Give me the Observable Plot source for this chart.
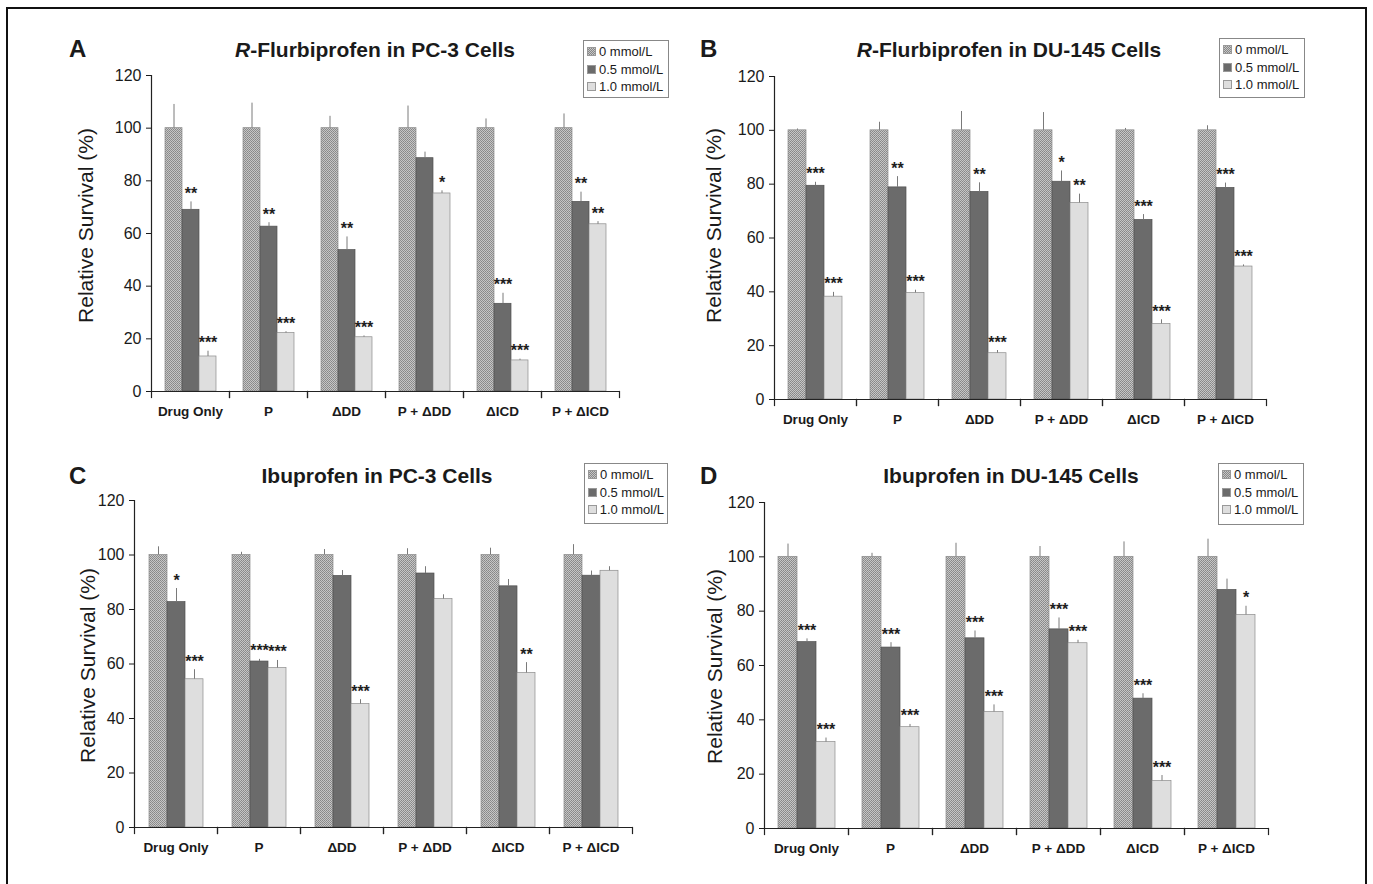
<!DOCTYPE html>
<html><head><meta charset="utf-8">
<script src="https://cdn.jsdelivr.net/npm/d3@7"></script>
<script src="https://cdn.jsdelivr.net/npm/@observablehq/plot@0.6"></script>
<style>
body{margin:0;background:#fff;font-family:"Liberation Sans",Arial,sans-serif;color:#1a1a1a;}
#fig{position:relative;width:1373px;height:884px;overflow:hidden;background:#fff;}
.border{position:absolute;left:6px;top:7px;width:1361px;height:900px;border:2px solid #111;box-sizing:border-box;}
.psvg{position:absolute;}
.letter{position:absolute;font-weight:bold;font-size:24px;line-height:1;}
.title{position:absolute;font-weight:bold;font-size:21px;line-height:1;transform:translateX(-50%);white-space:nowrap;}
.legend{position:absolute;border:1px solid #888;background:#fff;font-size:13px;box-sizing:border-box;padding:2px 3px;}
.legend .row{display:flex;align-items:center;height:17.5px;white-space:nowrap;}
.legend .sw{width:9px;height:9px;margin-right:3px;box-sizing:border-box;border:1px solid #999;}
g[aria-label="fx-axis tick label"]{font-weight:bold;}
</style></head>
<body>
<svg width="0" height="0" style="position:absolute">
  <defs>
    <pattern id="dots" width="2" height="2" patternUnits="userSpaceOnUse">
      <rect width="2" height="2" fill="#c6c6c6"/>
      <rect width="1" height="1" fill="#878787"/>
      <rect x="1" y="1" width="1" height="1" fill="#909090"/>
    </pattern>
  </defs>
</svg>
<div id="fig"><div class="border"></div></div>
<script>
const FONT = '"Liberation Sans", Arial, sans-serif';
const categories = ["Drug Only", "P", "ΔDD", "P + ΔDD", "ΔICD", "P + ΔICD"];
const doses = ["0 mmol/L", "0.5 mmol/L", "1.0 mmol/L"];
const yTicks = [0, 20, 40, 60, 80, 100, 120];
const yLabel = "Relative Survival (%)";
const doseFills = ["url(#dots)", "#6b6b6b", "#dedede"];
const doseStrokes = ["#8a8a8a", "#505050", "#8c8c8c"];
const legendSwatches = ["repeating-conic-gradient(#878787 0 25%, #c6c6c6 0 50%) 0 0/2px 2px", "#6b6b6b", "#dedede"];

// Panel A: R-Flurbiprofen in PC-3 Cells
const aTitle = ["R", "-Flurbiprofen in PC-3 Cells"];
const a0 = [100, 100, 100, 100, 100, 100];
const a0err = [9, 9.5, 4.5, 8.4, 3.5, 5.4];
const a05 = [69.0, 62.6, 53.7, 88.6, 33.3, 72.0];
const a05err = [3, 1.5, 5, 2.3, 4, 3.7];
const a05sig = ["**", "**", "**", "", "***", "**"];
const a10 = [13.3, 22.2, 20.6, 75.2, 11.8, 63.5];
const a10err = [2, 0.5, 0.5, 1, 0.5, 1];
const a10sig = ["***", "***", "***", "*", "***", "**"];

// Panel B: R-Flurbiprofen in DU-145 Cells
const bTitle = ["R", "-Flurbiprofen in DU-145 Cells"];
const b0 = [100, 100, 100, 100, 100, 100];
const b0err = [0.5, 3, 7, 6.6, 0.7, 1.7];
const b05 = [79.4, 78.8, 77.1, 80.9, 66.7, 78.6];
const b05err = [1.3, 4, 3.4, 4, 2, 1.8];
const b05sig = ["***", "**", "**", "*", "***", "***"];
const b10 = [38.2, 39.6, 17.2, 73.0, 28.1, 49.4];
const b10err = [1.6, 1, 1, 3.3, 1.5, 0.6];
const b10sig = ["***", "***", "***", "**", "***", "***"];

// Panel C: Ibuprofen in PC-3 Cells
const cTitle = ["", "Ibuprofen in PC-3 Cells"];
const c0 = [100, 100, 100, 100, 100, 100];
const c0err = [3, 1, 2, 2.3, 2.5, 3.8];
const c05 = [82.7, 60.9, 92.3, 93.2, 88.5, 92.4];
const c05err = [5, 0.8, 2, 2.5, 2.5, 1.7];
const c05sig = ["*", "***", "", "", "", ""];
const c10 = [54.4, 58.5, 45.3, 83.8, 56.7, 94.2];
const c10err = [3.5, 2.8, 1.6, 1.6, 3.8, 1.5];
const c10sig = ["***", "***", "***", "", "**", ""];

// Panel D: Ibuprofen in DU-145 Cells
const dTitle = ["", "Ibuprofen in DU-145 Cells"];
const d0 = [100, 100, 100, 100, 100, 100];
const d0err = [4.7, 1.3, 5, 3.8, 5.5, 6.5];
const d05 = [68.6, 66.6, 70.0, 73.3, 47.8, 87.8];
const d05err = [1.2, 1.8, 2.7, 4.2, 1.8, 4];
const d05sig = ["***", "***", "***", "***", "***", ""];
const d10 = [31.8, 37.3, 42.9, 68.2, 17.5, 78.6];
const d10err = [1.5, 1, 2.6, 1.1, 2, 3.2];
const d10sig = ["***", "***", "***", "***", "***", "*"];

function rowsFor(v0, e0, v05, e05, s05, v10, e10, s10) {
  const rows = [];
  categories.forEach((c, i) => {
    rows.push({cat: c, dose: doses[0], value: v0[i], err: e0[i], sig: ""});
    rows.push({cat: c, dose: doses[1], value: v05[i], err: e05[i], sig: s05[i]});
    rows.push({cat: c, dose: doses[2], value: v10[i], err: e10[i], sig: s10[i]});
  });
  return rows;
}

const panels = [
  {letter: "A", title: aTitle, rows: rowsFor(a0, a0err, a05, a05err, a05sig, a10, a10err, a10sig),
   left: 60, top: 65, width: 569, ml: 90, mt: 10, innerH: 316, labelPos: [85, 225],
   letterPos: [69, 37], titlePos: [375, 39], legendPos: [583, 40, 86, 58]},
  {letter: "B", title: bTitle, rows: rowsFor(b0, b0err, b05, b05err, b05sig, b10, b10err, b10sig),
   left: 690, top: 65, width: 588, ml: 82, mt: 11, innerH: 323, labelPos: [712, 225],
   letterPos: [700, 37], titlePos: [1009, 39], legendPos: [1219, 38, 86, 60]},
  {letter: "C", title: cTitle, rows: rowsFor(c0, c0err, c05, c05err, c05sig, c10, c10err, c10sig),
   left: 40, top: 490, width: 604, ml: 92, mt: 10, innerH: 327, labelPos: [86, 665],
   letterPos: [69, 464], titlePos: [377, 465], legendPos: [584, 463, 84, 61]},
  {letter: "D", title: dTitle, rows: rowsFor(d0, d0err, d05, d05err, d05sig, d10, d10err, d10sig),
   left: 690, top: 490, width: 589, ml: 73, mt: 12, innerH: 326, labelPos: [714, 666],
   letterPos: [700, 464], titlePos: [1011, 465], legendPos: [1218, 463, 86, 62]}
];

const fig = document.getElementById("fig");
const MB = 30;

for (const p of panels) {
  const height = p.mt + p.innerH + MB;
  const axisX = p.left + p.ml;
  const midY = p.top + p.mt + p.innerH / 2;
  const chart = Plot.plot({
    width: p.width, height,
    marginLeft: p.ml, marginRight: 10, marginTop: p.mt, marginBottom: MB,
    style: {fontFamily: FONT, background: "transparent", overflow: "visible", color: "#1a1a1a"},
    fx: {domain: categories, padding: 0, label: null},
    x: {domain: doses, paddingInner: 0, paddingOuter: 0.69, axis: null},
    y: {domain: [0, 120], label: null},
    color: {domain: doses, range: doseFills},
    marks: [
      Plot.barY(p.rows, {fx: "cat", x: "dose", y: "value", fill: "dose",
        stroke: d => doseStrokes[doses.indexOf(d.dose)], strokeWidth: 0.7}),
      Plot.ruleX(p.rows, {fx: "cat", x: "dose", y1: "value", y2: d => d.value + d.err, stroke: "#7a7a7a", strokeWidth: 1}),
      Plot.text(p.rows.filter(d => d.sig), {fx: "cat", x: "dose", y: d => d.value + d.err, text: "sig",
        dy: -3, lineAnchor: "bottom", fontSize: 16, fontWeight: "bold", fill: "#1e1e1e"}),
      Plot.ruleY([0], {stroke: "#222", strokeWidth: 1.2}),
      Plot.frame({anchor: "left", facetAnchor: "left", stroke: "#222", strokeWidth: 1.2}),
      Plot.frame({anchor: "left", insetTop: p.innerH, insetBottom: -6, stroke: "#222", strokeWidth: 1.2}),
      Plot.frame({anchor: "right", insetTop: p.innerH, insetBottom: -6, stroke: "#222", strokeWidth: 1.2}),
      Plot.axisY({ticks: yTicks, tickSize: 5, tickPadding: 5, fontSize: 16, label: null}),
      Plot.text([yLabel], {frameAnchor: "left", facetAnchor: "left", rotate: -90, text: d => d,
        textAnchor: "middle", lineAnchor: "middle", fontSize: 21, fill: "#1a1a1a",
        dx: p.labelPos[0] - axisX, dy: p.labelPos[1] - midY}),
      Plot.axisFx({anchor: "bottom", tickSize: 0, tickPadding: 15, fontSize: 13.5, fontWeight: "bold", label: null})
    ]
  });
  chart.classList.add("psvg");
  chart.style.left = p.left + "px";
  chart.style.top = p.top + "px";
  fig.appendChild(chart);

  const L = document.createElement("div");
  L.className = "letter"; L.textContent = p.letter;
  L.style.left = p.letterPos[0] + "px"; L.style.top = p.letterPos[1] + "px";
  fig.appendChild(L);

  const T = document.createElement("div");
  T.className = "title";
  if (p.title[0]) { const em = document.createElement("i"); em.textContent = p.title[0]; T.appendChild(em); }
  T.appendChild(document.createTextNode(p.title[1]));
  T.style.left = p.titlePos[0] + "px"; T.style.top = p.titlePos[1] + "px";
  fig.appendChild(T);

  const G = document.createElement("div");
  G.className = "legend";
  G.style.left = p.legendPos[0] + "px"; G.style.top = p.legendPos[1] + "px";
  G.style.width = p.legendPos[2] + "px"; G.style.height = p.legendPos[3] + "px";
  doses.forEach((d, i) => {
    const r = document.createElement("div"); r.className = "row";
    const s = document.createElement("span"); s.className = "sw"; s.style.background = legendSwatches[i];
    r.appendChild(s); r.appendChild(document.createTextNode(d));
    G.appendChild(r);
  });
  fig.appendChild(G);
}
</script>
</body></html>
